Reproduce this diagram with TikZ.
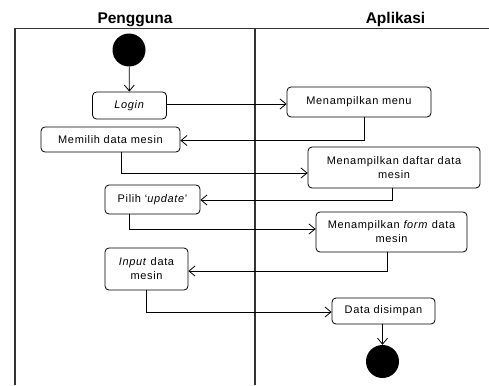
\documentclass[tikz,border=0pt]{standalone}
\usepackage{fontspec}
\setmainfont{Liberation Sans}
\newfontfamily\boxfont[LetterSpace=6]{Liberation Sans}
\usetikzlibrary{arrows.meta}
\tikzset{
  act/.style={draw, rounded corners=4pt, line width=0.8pt, inner sep=0pt,
    font=\boxfont\fontsize{11}{14}\selectfont, align=center},
  arr/.style={-{Straight Barb[length=6pt,width=10pt]}, line width=0.8pt},
  lane/.style={line width=1.2pt, black!80},
  startend/.style={circle, fill=black, minimum size=33pt, inner sep=0pt},
  hdr/.style={font=\bfseries\fontsize{15.5}{18}\selectfont, anchor=base}
}
\begin{document}
\begin{tikzpicture}[x=1pt,y=-1pt]
\useasboundingbox (0,0) rectangle (489,385);
% lanes
\draw[lane] (15,385) -- (15,28.5) -- (489,28.5);
\draw[lane] (255,28.5) -- (255,385);
\node[hdr] (h1) at (135,24) {Pengguna};
\node[hdr] (h2) at (395.5,24) {Aplikasi};
% nodes
\node[startend] (start) at (129,50) {};
\node[act, minimum width=74pt, minimum height=27pt] (login) at (129.5,105.5) {\textit{Login}};
\node[act, minimum width=139pt, minimum height=25pt] (memilih) at (110.5,139.5) {Memilih data mesin};
\node[act, minimum width=95pt, minimum height=29pt] (pilih) at (152.5,199.5) {Pilih ‘\textit{update}’};
\node[act, minimum width=83pt, minimum height=42pt] (input) at (146.5,269) {\textit{Input} data\\mesin};
\node[act, minimum width=144pt, minimum height=30pt] (menu) at (359,102) {Menampilkan menu};
\node[act, minimum width=172pt, minimum height=41pt] (daftar) at (394,167.5) {Menampilkan daftar data\\mesin};
\node[act, minimum width=151pt, minimum height=40pt] (form) at (391.5,232) {Menampilkan \textit{form} data\\mesin};
\node[act, minimum width=103pt, minimum height=26pt] (simpan) at (383.5,311) {Data disimpan};
\node[startend] (end) at (382.5,361.5) {};
% connectors
\draw[arr] (start) -- (login);
\draw[arr] ([yshift=1.5pt]login.east) -- ([yshift=1.5pt]login.east -| menu.west);
\draw[arr] ([xshift=5.5pt]menu.south) |- ([yshift=-1pt]memilih.east);
\draw[arr] ([xshift=10.5pt]memilih.south) |- ([yshift=-5.5pt]daftar.west);
\draw[arr] ([xshift=-2pt]daftar.south) |- ([yshift=-0.5pt]pilih.east);
\draw[arr] ([xshift=-23.5pt]pilih.south) |- ([yshift=3pt]form.west);
\draw[arr] ([xshift=-4.5pt]form.south) |- ([yshift=-2pt]input.east);
\draw[arr] ([xshift=-0.5pt]input.south) |- ([yshift=-1pt]simpan.west);
\draw[arr] (simpan.south -| end.north) -- (end.north);
\end{tikzpicture}
\end{document}
